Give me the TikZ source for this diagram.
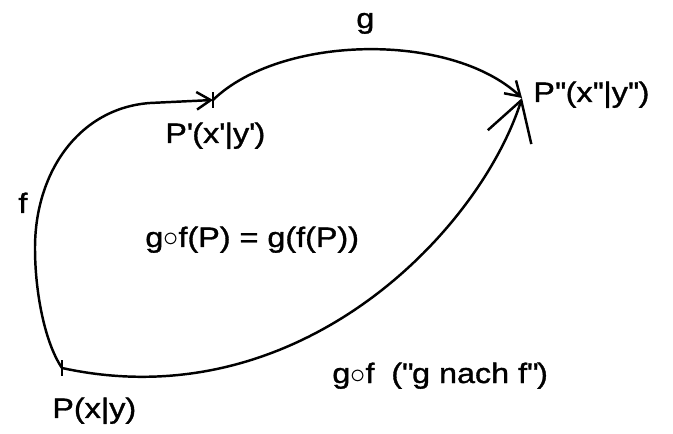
\documentclass[tikz,border=0pt]{standalone}
\usepackage{fontspec}
\setmainfont{Liberation Sans}[FakeStretch=1.15,FakeBold=1.2]
\usetikzlibrary{arrows.meta}
\newcommand\pr{\textquotesingle}
\newcommand\dq{\textquotedbl}
\begin{document}
\begin{tikzpicture}[x=0.02cm, y=0.02cm,
    curve/.style={line width=1.4pt},
    smalltip/.style={-{Straight Barb[length=8pt,width=10pt]}},
    bigtip/.style={-{Straight Barb[length=22pt,width=26pt]}},
    lbl/.style={anchor=base west, inner sep=0pt, font=\fontsize{16}{19}\selectfont}]
            \useasboundingbox (0,0) rectangle (673,433);
            \coordinate (P) at (62,65);
            \coordinate (P1) at (213,333);
            \coordinate (P2) at (522,335);
            % f, g and g nach f
            \draw[curve, smalltip] (P) .. controls (45,90) and (35,140) .. (35,185)
                .. controls (35,262) and (80,325) .. (150,330) -- (P1);
            \draw[curve, smalltip] (P1) .. controls (280,398) and (450,402) .. (P2);
            \draw[curve, bigtip] (P) .. controls (300,13) and (480,203) .. (P2);
            \foreach \p in {P,P1}
            \draw[curve] (\p) ++(0,-8) -- ++(0,16);
            \node[lbl] (lP) at (52,15) {P(x|y)};
            \node[lbl] (lP1) at (165,290) {P\pr(x\pr|y\pr)};
            \node[lbl] (lP2) at (533,331) {P\pr\pr(x\pr\pr|y\pr\pr)};
            \node[lbl] (lg) at (356,405) {g};
            \node[lbl] (lf) at (18,220) {f};
            \node[lbl] (lgf) at (145,186) {g$\circ$f(P) = g(f(P))};
            \node[lbl] (lname) at (332,50) {g$\circ$f\hspace{0.6em}(\dq g nach f\dq)};
        \end{tikzpicture}
\end{document}
